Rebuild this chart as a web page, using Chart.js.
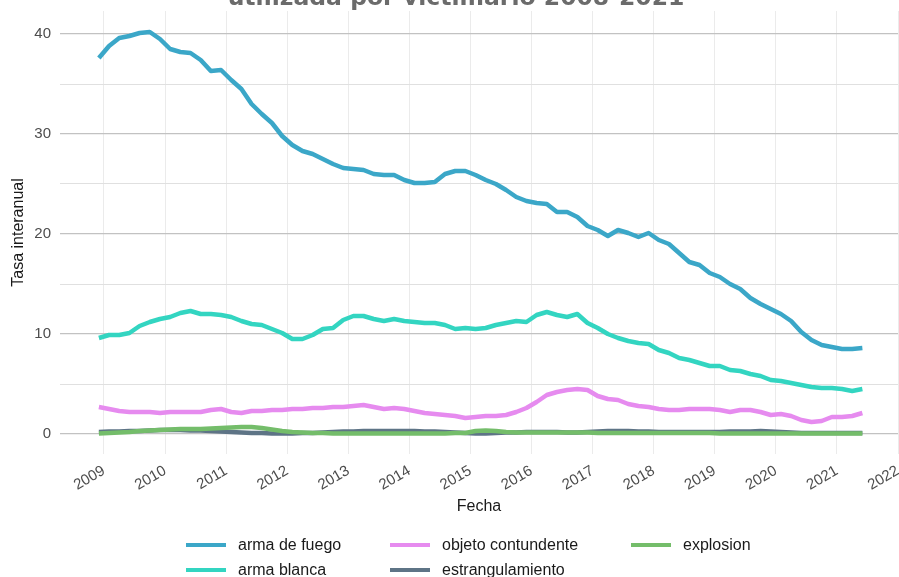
<!DOCTYPE html>
<html><head><meta charset="utf-8">
<script src="https://cdn.jsdelivr.net/npm/chart.js@4/dist/chart.umd.min.js"></script>
<style>
html,body{margin:0;padding:0;background:#fff;overflow:hidden;width:899px;height:577px;position:relative}
#wrap{position:absolute;left:0;top:0;width:915px;height:577px}
#legend{position:absolute;left:0;top:0;width:899px;height:577px;pointer-events:none;font-family:"Liberation Sans",Arial,sans-serif;font-size:16px;color:#1a1a1a}
.item{position:absolute;height:20px;line-height:20px;white-space:nowrap}
.sw{position:absolute;width:40px;height:4px;top:8px}
</style></head>
<body><div id="wrap"><canvas id="c"></canvas></div><div id="legend"></div>
<script>
const tituloLineas = ["Tasa interanual de homicidios según arma", "utilizada por victimario 2008-2021"];
const ejeX = "Fecha";
const ejeY = "Tasa interanual";
const anios = [2009,2010,2011,2012,2013,2014,2015,2016,2017,2018,2019,2020,2021,2022];
const ticksY = [0,5,10,15,20,25,30,35,40];

const fechas = ["2008-12",
"2009-02","2009-04","2009-06","2009-08","2009-10","2009-12",
"2010-02","2010-04","2010-06","2010-08","2010-10","2010-12",
"2011-02","2011-04","2011-06","2011-08","2011-10","2011-12",
"2012-02","2012-04","2012-06","2012-08","2012-10","2012-12",
"2013-02","2013-04","2013-06","2013-08","2013-10","2013-12",
"2014-02","2014-04","2014-06","2014-08","2014-10","2014-12",
"2015-02","2015-04","2015-06","2015-08","2015-10","2015-12",
"2016-02","2016-04","2016-06","2016-08","2016-10","2016-12",
"2017-02","2017-04","2017-06","2017-08","2017-10","2017-12",
"2018-02","2018-04","2018-06","2018-08","2018-10","2018-12",
"2019-02","2019-04","2019-06","2019-08","2019-10","2019-12",
"2020-02","2020-04","2020-06","2020-08","2020-10","2020-12",
"2021-02","2021-04","2021-06"];

const armaDeFuego = [37.6,
38.8,39.6,39.8,40.1,40.2,39.5,
38.5,38.2,38.1,37.4,36.3,36.4,
35.4,34.5,33.0,32.0,31.1,29.8,
28.9,28.3,28.0,27.5,27.0,26.6,
26.5,26.4,26.0,25.9,25.9,25.4,
25.1,25.1,25.2,26.0,26.3,26.3,
25.9,25.4,25.0,24.4,23.7,23.3,
23.1,23.0,22.2,22.2,21.7,20.8,
20.4,19.8,20.4,20.1,19.7,20.1,
19.4,19.0,18.1,17.2,16.9,16.1,
15.7,15.0,14.5,13.6,13.0,12.5,
12.0,11.3,10.2,9.4,8.9,8.7,
8.5,8.5,8.6];

const armaBlanca = [9.6,
9.9,9.9,10.1,10.8,11.2,11.5,
11.7,12.1,12.3,12.0,12.0,11.9,
11.7,11.3,11.0,10.9,10.5,10.1,
9.5,9.5,9.9,10.5,10.6,11.4,
11.8,11.8,11.5,11.3,11.5,11.3,
11.2,11.1,11.1,10.9,10.5,10.6,
10.5,10.6,10.9,11.1,11.3,11.2,
11.9,12.2,11.9,11.7,12.0,11.1,
10.6,10.0,9.6,9.3,9.1,9.0,
8.4,8.1,7.6,7.4,7.1,6.8,
6.8,6.4,6.3,6.0,5.8,5.4,
5.3,5.1,4.9,4.7,4.6,4.6,
4.5,4.3,4.5];

const objetoContundente = [2.7,
2.5,2.3,2.2,2.2,2.2,2.1,
2.2,2.2,2.2,2.2,2.4,2.5,
2.2,2.1,2.3,2.3,2.4,2.4,
2.5,2.5,2.6,2.6,2.7,2.7,
2.8,2.9,2.7,2.5,2.6,2.5,
2.3,2.1,2.0,1.9,1.8,1.6,
1.7,1.8,1.8,1.9,2.2,2.6,
3.2,3.9,4.2,4.4,4.5,4.4,
3.8,3.5,3.4,3.0,2.8,2.7,
2.5,2.4,2.4,2.5,2.5,2.5,
2.4,2.2,2.4,2.4,2.2,1.9,
2.0,1.8,1.4,1.2,1.3,1.7,
1.7,1.8,2.1];

const estrangulamiento = [0.2,
0.25,0.25,0.3,0.3,0.35,0.4,
0.4,0.4,0.35,0.35,0.3,0.25,
0.2,0.15,0.1,0.1,0.05,0.05,
0.05,0.1,0.1,0.15,0.2,0.25,
0.25,0.3,0.3,0.3,0.3,0.3,
0.3,0.25,0.25,0.2,0.15,0.1,
0.05,0.05,0.1,0.15,0.15,0.2,
0.2,0.2,0.2,0.15,0.15,0.2,
0.25,0.3,0.3,0.3,0.25,0.25,
0.2,0.2,0.2,0.2,0.2,0.2,
0.2,0.25,0.25,0.25,0.3,0.25,
0.2,0.15,0.1,0.1,0.1,0.1,
0.1,0.1,0.1];

const explosion = [0.05,
0.1,0.15,0.2,0.3,0.35,0.4,
0.45,0.5,0.5,0.5,0.55,0.6,
0.65,0.7,0.7,0.6,0.45,0.3,
0.2,0.15,0.1,0.1,0.05,0.05,
0.05,0.05,0.05,0.05,0.05,0.05,
0.05,0.05,0.05,0.05,0.1,0.1,
0.3,0.35,0.3,0.2,0.15,0.15,
0.15,0.15,0.15,0.15,0.15,0.15,
0.1,0.1,0.1,0.1,0.1,0.1,
0.1,0.1,0.1,0.1,0.1,0.1,
0.05,0.05,0.05,0.05,0.05,0.05,
0.05,0.05,0.05,0.05,0.05,0.05,
0.05,0.05,0.05];

const series = [
  {name:"arma de fuego", values:armaDeFuego, color:"#3ba7c8", order:4},
  {name:"arma blanca", values:armaBlanca, color:"#33d5c1", order:3},
  {name:"objeto contundente", values:objetoContundente, color:"#e68bef", order:2},
  {name:"estrangulamiento", values:estrangulamiento, color:"#5e7486", order:1},
  {name:"explosion", values:explosion, color:"#74bd6a", order:0}
];

const FONT = '"Liberation Sans", Arial, sans-serif';
const toYear = s => { const p = s.split('-').map(Number); return p[0] + (p[1]-1)/12; };
const xs = fechas.map(toYear);

const titlePlugin = {
  id: 'topTitle',
  afterDraw(chart) {
    const ctx = chart.ctx;
    ctx.save();
    ctx.font = 'bold 23.5px "DejaVu Sans"';
    ctx.fillStyle = '#6b6b6b';
    ctx.textAlign = 'center';
    ctx.textBaseline = 'alphabetic';
    ctx.fillText(tituloLineas[0], 456, -22);
    ctx.fillText(tituloLineas[1], 456, 5);
    ctx.restore();
  }
};

new Chart(document.getElementById('c'), {
  type: 'line',
  data: {
    datasets: series.map(s => ({
      label: s.name,
      data: s.values.map((v, i) => ({x: xs[i], y: v})),
      borderColor: s.color,
      backgroundColor: s.color,
      borderWidth: 4.5,
      pointRadius: 0,
      tension: 0,
      fill: false,
      order: s.order,
      borderJoinStyle: 'round',
      borderCapStyle: 'butt'
    }))
  },
  options: {
    responsive: true,
    maintainAspectRatio: false,
    animation: false,
    layout: {padding: {top: 11, bottom: 61, left: 0, right: 0}},
    plugins: {legend: {display: false}, tooltip: {enabled: false}},
    scales: {
      x: {
        type: 'linear', min: 2008.28, max: 2022,
        afterBuildTicks: s => { s.ticks = anios.map(v => ({value: v})); },
        afterFit: s => { s.height = 62; },
        ticks: {minRotation: 30, maxRotation: 30, autoSkip: false, padding: 8,
                callback: v => String(v), color: '#4d4d4d', font: {family: FONT, size: 15}},
        grid: {color: '#ebebeb', lineWidth: 1, drawTicks: false},
        border: {display: false},
        title: {display: true, text: ejeX, color: '#1a1a1a', font: {family: FONT, size: 16}, padding: {top: 0, bottom: 0}}
      },
      y: {
        min: -2, max: 42.3,
        afterBuildTicks: s => { s.ticks = ticksY.map(v => ({value: v})); },
        afterFit: s => { s.width = 60; s.paddingTop = 0; s.paddingBottom = 0; },
        ticks: {padding: 9, callback: v => (v % 10 === 0 ? String(v) : ''), color: '#4d4d4d', font: {family: FONT, size: 15}},
        grid: {drawTicks: false,
               color: c => (c.tick && c.tick.value % 10 === 0) ? '#c2c2c2' : '#e0e0e0',
               lineWidth: c => (c.tick && c.tick.value % 10 === 0) ? 1.3 : 1},
        border: {display: false},
        title: {display: true, text: ejeY, color: '#1a1a1a', font: {family: FONT, size: 16}, padding: {top: 9, bottom: 0}}
      }
    }
  },
  plugins: [titlePlugin]
});

// Legend (ggplot-style, filled column by column)
const legendPos = [
  {i:0, sw:186, tx:238, y:535},
  {i:1, sw:186, tx:238, y:560},
  {i:2, sw:390, tx:442, y:535},
  {i:3, sw:390, tx:442, y:560},
  {i:4, sw:631, tx:683, y:535}
];
const lg = document.getElementById('legend');
legendPos.forEach(p => {
  const s = series[p.i];
  const sw = document.createElement('div');
  sw.className = 'sw';
  sw.style.left = p.sw + 'px';
  sw.style.top = (p.y + 8) + 'px';
  sw.style.background = s.color;
  lg.appendChild(sw);
  const t = document.createElement('div');
  t.className = 'item';
  t.style.left = p.tx + 'px';
  t.style.top = p.y + 'px';
  t.textContent = s.name;
  lg.appendChild(t);
});
</script>
</body></html>
